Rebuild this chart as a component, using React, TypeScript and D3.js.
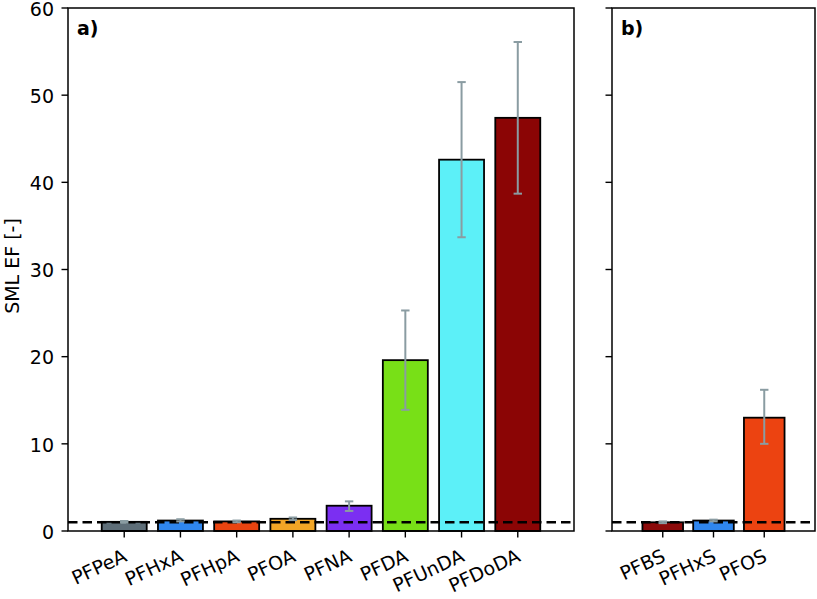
import React from "react";
import * as d3 from "d3";

const catsA = ["PFPeA", "PFHxA", "PFHpA", "PFOA", "PFNA", "PFDA", "PFUnDA", "PFDoDA"];
const valsA = [1.05, 1.2, 1.1, 1.4, 2.9, 19.6, 42.6, 47.4];
const errLoA = [0.95, 1.1, 1.0, 1.25, 2.3, 13.9, 33.7, 38.7];
const errHiA = [1.15, 1.35, 1.2, 1.55, 3.4, 25.3, 51.5, 56.1];
const colorsA = ["#5e6e78", "#2f86ee", "#ea4410", "#f2a626", "#7b2ff2", "#78e017", "#5cf0f8", "#8b0505"];

const catsB = ["PFBS", "PFHxS", "PFOS"];
const valsB = [1.0, 1.2, 13.0];
const errLoB = [0.9, 1.1, 10.0];
const errHiB = [1.1, 1.3, 16.2];
const colorsB = ["#8b0a0a", "#2f86ee", "#ec4311"];

const yTicks = [0, 10, 20, 30, 40, 50, 60];
const refLine = 1;

const FONT = "DejaVu Sans, sans-serif";
const FS = 19;

function Panel({ cats, vals, lo, hi, colors, x0, x1, label, showYLabels }) {
  const top = 8, bottom = 531;
  const y = d3.scaleLinear().domain([0, 60]).range([bottom, top]);
  const x = d3.scaleLinear().domain([-1, cats.length]).range([x0, x1]);
  const bw = x(0.8) - x(0);
  return (
    <g>
      {cats.map((c, i) => (
        <rect key={c} x={x(i) - bw / 2} y={y(vals[i])} width={bw} height={y(0) - y(vals[i])}
          fill={colors[i]} stroke="#000" strokeWidth={1.8} />
      ))}
      <line x1={x0} x2={x1} y1={y(refLine)} y2={y(refLine)} stroke="#000" strokeWidth={2.6} strokeDasharray="9.5,5" />
      {cats.map((c, i) => (
        <g key={"e" + c} stroke="#8a9ca2" strokeWidth={2}>
          <line x1={x(i)} x2={x(i)} y1={y(lo[i])} y2={y(hi[i])} />
          <line x1={x(i) - 4.2} x2={x(i) + 4.2} y1={y(lo[i])} y2={y(lo[i])} />
          <line x1={x(i) - 4.2} x2={x(i) + 4.2} y1={y(hi[i])} y2={y(hi[i])} />
        </g>
      ))}
      <rect x={x0} y={top} width={x1 - x0} height={bottom - top} fill="none" stroke="#000" strokeWidth={1.5} />
      {yTicks.map(t => (
        <g key={"y" + t}>
          <line x1={x0 - 6.5} x2={x0} y1={y(t)} y2={y(t)} stroke="#000" strokeWidth={1.4} />
          {showYLabels && (
            <text x={x0 - 14} y={y(t)} dy="0.41em" textAnchor="end" fontSize={FS} fontFamily={FONT}>{t}</text>
          )}
        </g>
      ))}
      {cats.map((c, i) => (
        <g key={"x" + c}>
          <line x1={x(i)} x2={x(i)} y1={bottom} y2={bottom + 6.5} stroke="#000" strokeWidth={1.4} />
          <text transform={`translate(${x(i) - 2},${bottom + 17}) rotate(-25)`} textAnchor="end" dy="0.73em"
            fontSize={FS} fontFamily={FONT}>{c}</text>
        </g>
      ))}
      <text x={x0 + 9} y={35} fontSize={FS} fontWeight="bold" fontFamily={FONT}>{label}</text>
    </g>
  );
}

export default function App() {
  return (
    <svg width={817} height={599} style={{ display: "block", position: "absolute", left: 0, top: 0 }}>
      <rect width={817} height={599} fill="#fff" />
      <Panel cats={catsA} vals={valsA} lo={errLoA} hi={errHiA} colors={colorsA} x0={68} x1={574} label="a)" showYLabels={true} />
      <Panel cats={catsB} vals={valsB} lo={errLoB} hi={errHiB} colors={colorsB} x0={612} x1={815} label="b)" showYLabels={false} />
      <text transform="translate(19,266) rotate(-90)" textAnchor="middle" fontSize={FS} fontFamily={FONT}>SML EF [-]</text>
    </svg>
  );
}
